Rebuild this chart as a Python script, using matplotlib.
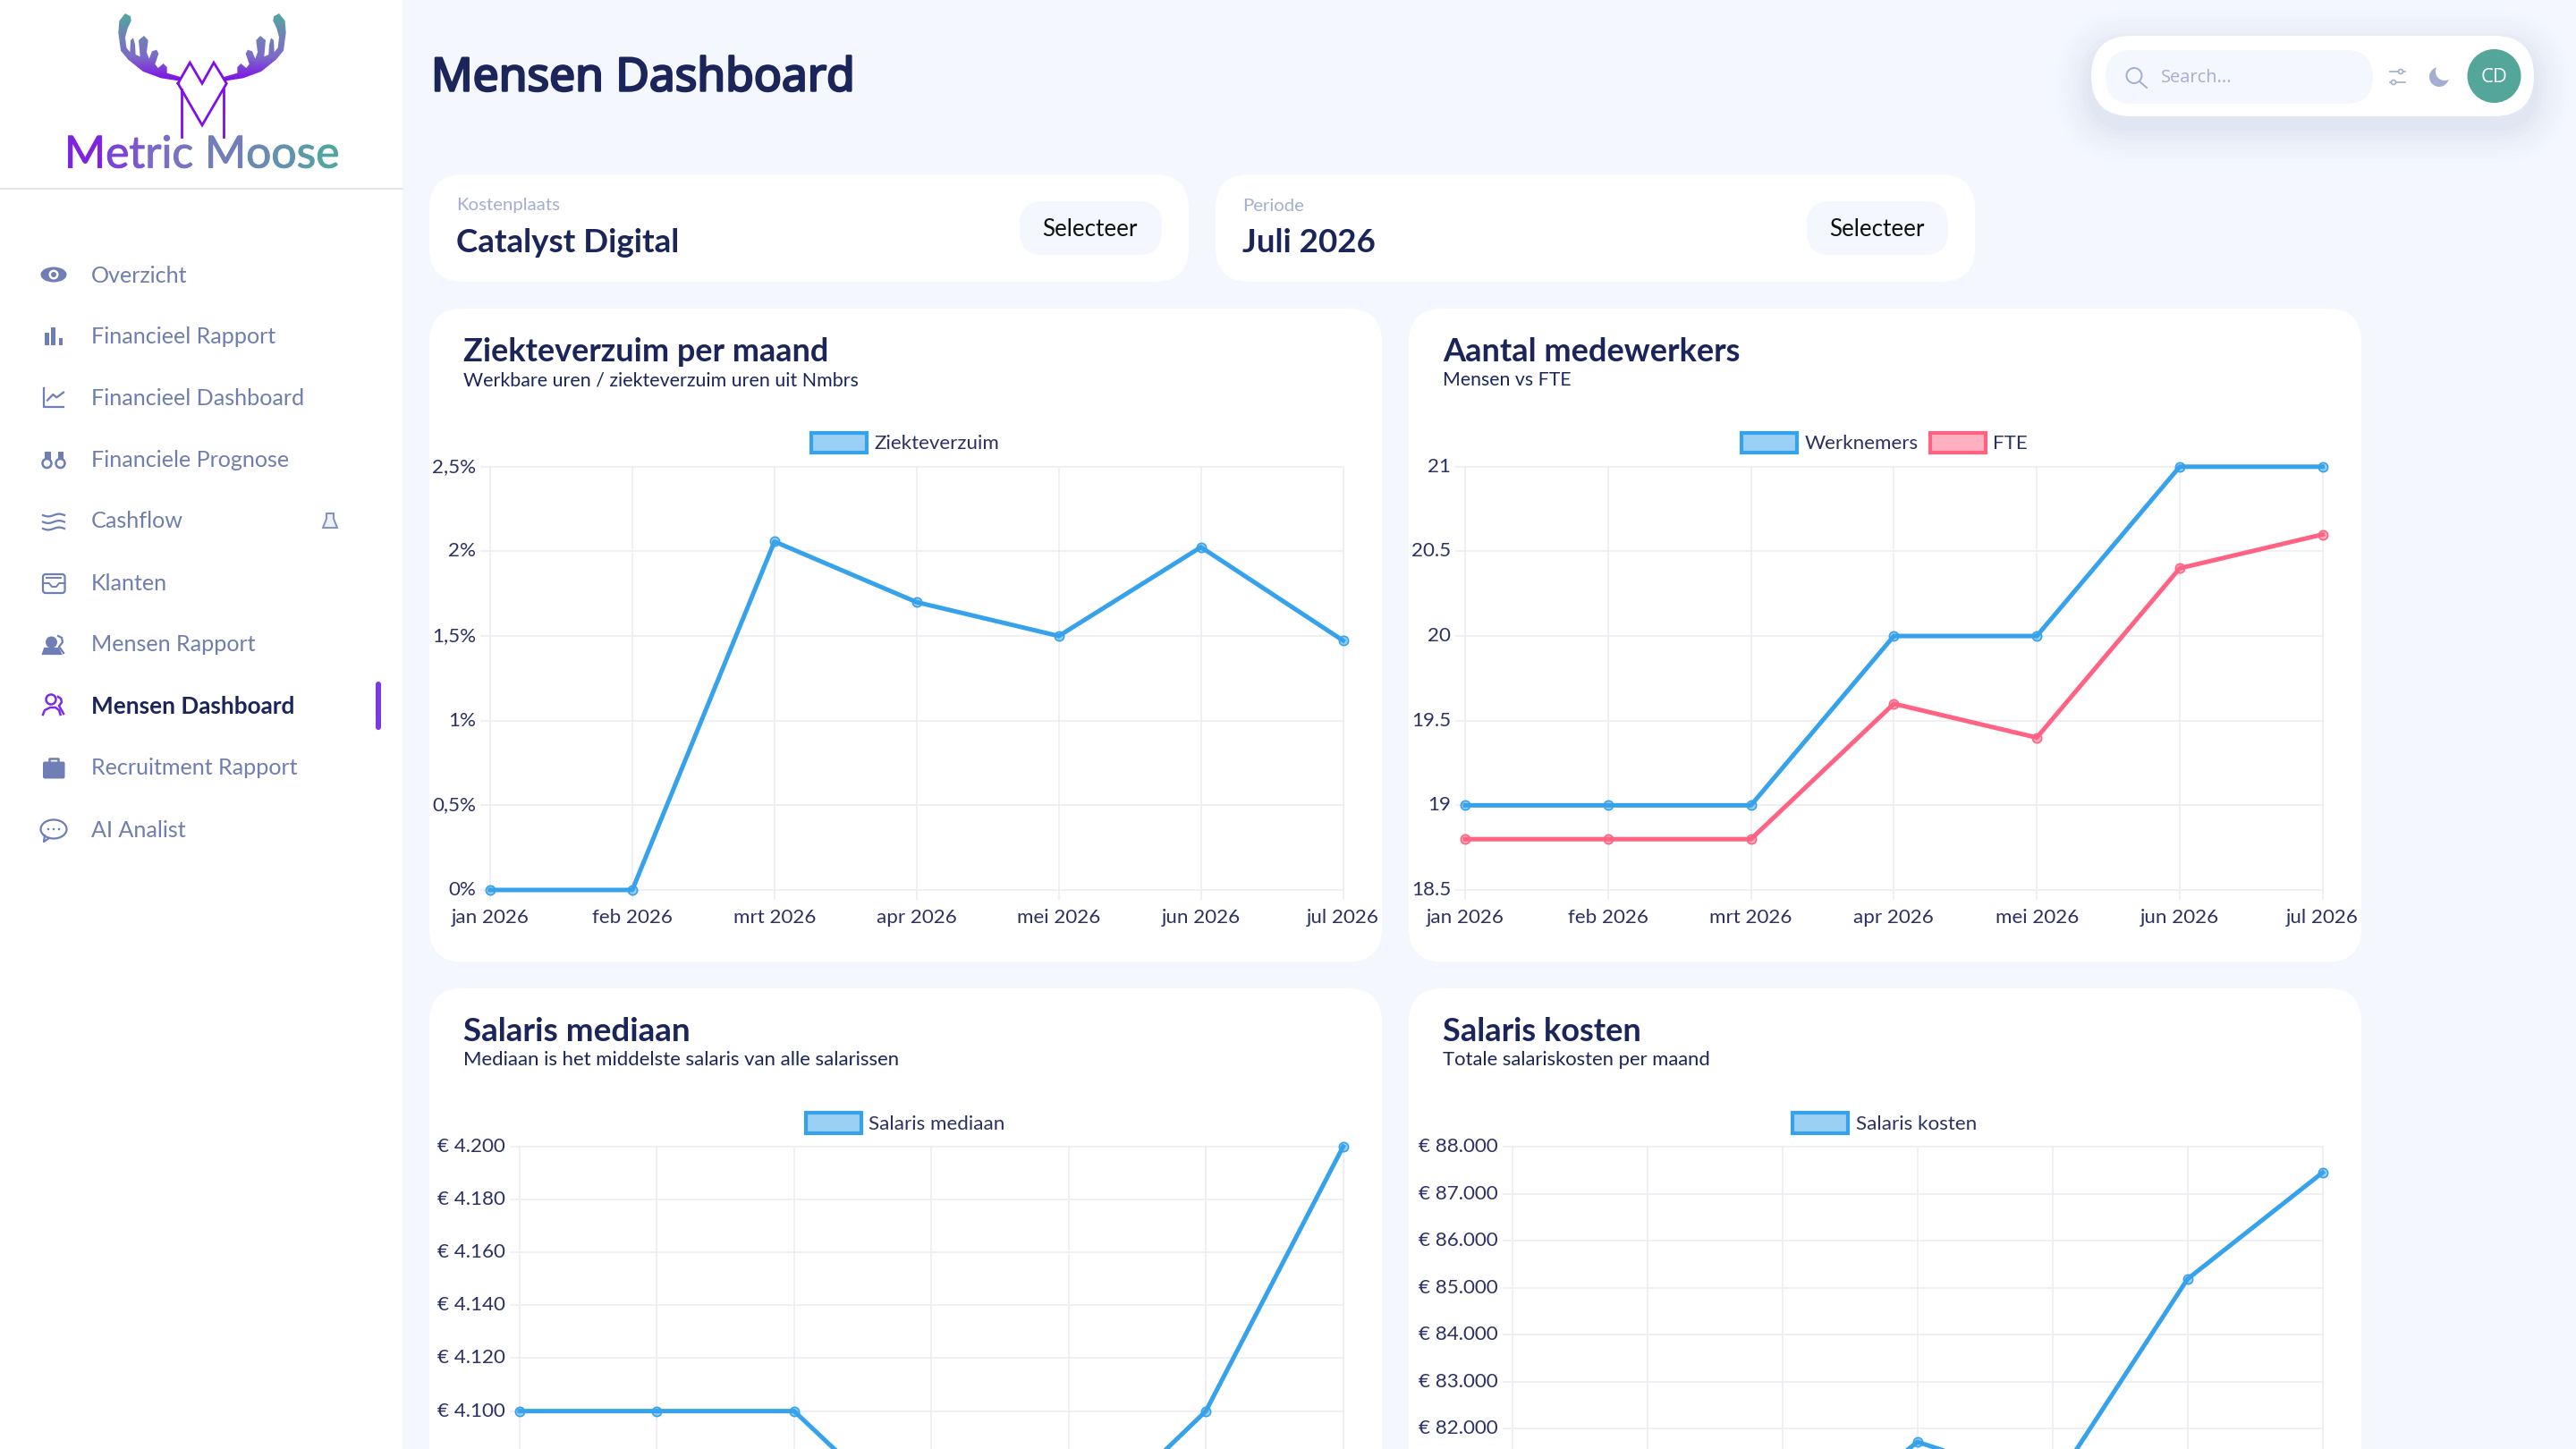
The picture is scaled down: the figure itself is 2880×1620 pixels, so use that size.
import matplotlib
matplotlib.use("Agg")
import matplotlib.pyplot as plt
import matplotlib.patheffects as pe
import numpy as np
from matplotlib.colors import LinearSegmentedColormap, to_rgba
from matplotlib.patches import Circle, Ellipse, FancyBboxPatch, Patch, Polygon, Rectangle
from matplotlib.transforms import ScaledTranslation

W, H = 2880, 1620
BODY = "Lato"
NAVY = "#1B2559"
GRAY = "#A3AED0"
NAV = "#707EAE"
BG = "#F4F7FE"
BLUE = "#36A2EB"
PINK = "#FF6384"
GRID = "#ECECF2"
TICK = "#2B3263"
PURPLE = "#7E0FE6"

months = ["jan 2026", "feb 2026", "mrt 2026", "apr 2026", "mei 2026", "jun 2026", "jul 2026"]

verzuim = [0, 0, 2.058, 1.70, 1.50, 2.025, 1.473]
verzuim_ticks = [0, 0.5, 1, 1.5, 2, 2.5]
verzuim_labels = ["0%", "0,5%", "1%", "1,5%", "2%", "2,5%"]

werknemers = [19, 19, 19, 20, 20, 21, 21]
fte = [18.8, 18.8, 18.8, 19.6, 19.4, 20.4, 20.6]
mw_ticks = [18.5, 19, 19.5, 20, 20.5, 21]
mw_labels = ["18.5", "19", "19.5", "20", "20.5", "21"]

mediaan = [4100, 4100, 4100, 4051, 4050, 4100, 4200]
mediaan_ticks = [4100, 4120, 4140, 4160, 4180, 4200]
mediaan_labels = ["€ 4.100", "€ 4.120", "€ 4.140", "€ 4.160", "€ 4.180", "€ 4.200"]

kosten = [79300, 79300, 79400, 81720, 80775, 85185, 87450]
kosten_ticks = [82000, 83000, 84000, 85000, 86000, 87000, 88000]
kosten_labels = ["€ 82.000", "€ 83.000", "€ 84.000", "€ 85.000", "€ 86.000", "€ 87.000", "€ 88.000"]

nav_items = ["Overzicht", "Financieel Rapport", "Financieel Dashboard", "Financiele Prognose", "Cashflow",
             "Klanten", "Mensen Rapport", "Mensen Dashboard", "Recruitment Rapport", "AI Analist"]
nav_y = [306, 375, 443.5, 512.5, 581, 650, 719, 788, 857, 926]

fig = plt.figure(figsize=(14.4, 8.1), dpi=200, facecolor=BG)
ui = fig.add_axes([0, 0, 1, 1], zorder=0)
ui.set_xlim(0, W)
ui.set_ylim(H, 0)
ui.axis("off")


def px(size):
    return size * 72 / 200


def fit_text(x, y, s, width, family=BODY, color=NAVY, weight="normal", ha="left"):
    # scale the font so the string is as wide as in the reference
    t = ui.text(x, y, s, family=family, color=color, weight=weight, ha=ha, va="center", fontsize=10)
    w = t.get_window_extent(fig.canvas.get_renderer()).width
    t.set_fontsize(10 * width / w)
    return t


def card(x0, y0, x1, y1, r=38, color="white", **kw):
    p = FancyBboxPatch((x0, y0), x1 - x0, y1 - y0, boxstyle=f"round,pad=0,rounding_size={r}",
                       fc=color, ec="none", **kw)
    ui.add_patch(p)
    return p


# sidebar
ui.add_patch(Rectangle((0, 0), 450, H, fc="white", ec="none"))
ui.plot([0, 450], [211, 211], color="#E3E6F0", lw=0.8)

# logo
grad = LinearSegmentedColormap.from_list("moose", [PURPLE, "#7C6CC8", "#6F84B4", "#4FA8A0"])
left_antler = np.array([(420, 45), (438, 55), (440, 70), (428, 95), (420, 125), (424, 160), (436, 175), (438, 135),
                        (447, 127), (453, 150), (455, 183), (470, 190), (465, 135), (483, 120), (497, 135), (492, 175),
                        (500, 197), (510, 172), (525, 167), (532, 180), (520, 215), (530, 228), (548, 213), (560, 225),
                        (560, 245), (605, 258), (605, 272), (540, 262), (480, 240), (430, 200), (405, 170), (397, 110),
                        (400, 70)], dtype=float) / 3
for pts in (left_antler, np.column_stack([452 - left_antler[:, 0], left_antler[:, 1]])):
    im = ui.imshow(np.linspace(1, 0, 64)[:, None] ** 1.1, extent=(120, 330, 92, 15), cmap=grad, vmin=0, vmax=1,
                   aspect="auto", zorder=2)
    im.set_clip_path(Polygon(pts, transform=ui.transData))
ui.set_xlim(0, W)
ui.set_ylim(H, 0)
mx = np.array([199, 212.3, 226, 239, 253.3, 226, 199])
my = np.array([93.3, 70, 93.3, 70, 93.3, 140, 93.3])
ui.plot(mx, my, color=PURPLE, lw=1.0, solid_joinstyle="miter", zorder=3)
ui.plot([202.5, 202.5], [100, 153], color=PURPLE, lw=1.0, zorder=3)
ui.plot([249.5, 249.5], [100, 153], color=PURPLE, lw=1.0, zorder=3)

logo = "Metric Moose"
renderer = fig.canvas.get_renderer()
logo_w = 307
logo_size = px(47)
probe = ui.text(0, 0, logo, family="Lato", fontsize=logo_size)
logo_size *= logo_w / probe.get_window_extent(renderer).width
probe.set_fontsize(logo_size)
for i, ch in enumerate(logo):
    probe.set_text(logo[:i + 1])
    end = probe.get_window_extent(renderer).width
    probe.set_text(ch)
    cw = probe.get_window_extent(renderer).width if ch != " " else 0
    if ch != " ":
        col = grad((end - cw / 2) / logo_w)
        ui.text(72 + end - cw, 187.5, ch, family="Lato", fontsize=logo_size, color=col, va="baseline", ha="left",
                path_effects=[pe.withStroke(linewidth=0.35, foreground=col)])
probe.remove()

# nav labels
for label, y in zip(nav_items, nav_y):
    active = label == "Mensen Dashboard"
    ui.text(102, y + 2, label, family=BODY, fontsize=px(26.2) if active else px(25.2), color=NAVY if active else NAV,
            weight="bold" if active else "normal", va="center")
ui.add_patch(FancyBboxPatch((420, 762), 6, 54, boxstyle="round,pad=0,rounding_size=3", fc="#7B3AE0", ec="none"))

# nav icons, rough shapes of the originals
ic = "#6F7EB4"
ui.add_patch(Ellipse((60, 307), 29, 17, fc=ic, ec="none"))
ui.add_patch(Circle((60, 307), 5.5, fc="white", ec="none"))
ui.add_patch(Circle((60, 307), 3, fc=ic, ec="none"))
for bx, bw, by in [(50, 4.5, 371.5), (56.7, 5.6, 366), (65.7, 4.5, 378)]:
    ui.add_patch(Rectangle((bx, by), bw, 386 - by, fc=ic, ec="none"))
ui.plot([49, 49, 71], [434, 455, 455], color=ic, lw=0.8)
ui.plot([53, 59.3, 63.3, 71], [447.5, 441, 444.4, 438.6], color=ic, lw=0.8)
for cx in (52.5, 67.5):
    ui.add_patch(Rectangle((cx - 3, 505), 7 if cx < 60 else 6, 11, fc=ic, ec="none"))
    ui.add_patch(Circle((cx, 518), 5, fc="white", ec=ic, lw=0.9))
wx = np.linspace(48, 72, 30)
for wy in (576, 583.5, 591):
    ui.plot(wx, wy + 1.4 * np.sin((wx - 48) / 24 * 2 * np.pi), color=ic, lw=0.8)
ui.add_patch(FancyBboxPatch((48, 642), 24.5, 21, boxstyle="round,pad=0,rounding_size=3", fc="white", ec=ic, lw=0.8))
ui.plot([48, 55, 58, 63, 66, 72.5], [652, 652, 656, 656, 652, 652], color=ic, lw=0.7)
ui.plot([52, 68], [646, 646], color=ic, lw=0.7)
ui.add_patch(Circle((57.5, 718), 6.5, fc=ic, ec="none"))
ui.add_patch(Polygon([(48, 731), (50, 725), (65, 725), (68, 731)], fc=ic, ec=ic, lw=0.8))
ui.plot([65, 69, 70, 66, 71], [711, 713, 718, 723, 730], color=ic, lw=0.8)
pu = "#7E2BE6"
ui.add_patch(Circle((57, 782), 5.5, fc="white", ec=pu, lw=0.9))
ui.plot([48, 50, 56, 62, 66, 67.5], [799, 794, 791, 791, 794, 799], color=pu, lw=0.9)
ui.plot([65, 68, 69, 66, 71], [779, 781, 785, 789, 798], color=pu, lw=0.9)
ui.add_patch(FancyBboxPatch((48, 851.5), 24.5, 19, boxstyle="round,pad=0,rounding_size=2", fc=ic, ec="none"))
ui.plot([55, 55, 65, 65], [851, 847.5, 847.5, 851], color=ic, lw=0.9)
ui.add_patch(Ellipse((60, 927), 29, 21, fc="white", ec=ic, lw=0.8))
ui.plot([50, 49, 55], [934, 941, 937], color=ic, lw=0.8)
for dx in (54, 60, 66):
    ui.add_patch(Circle((dx, 927), 1.3, fc=ic, ec="none"))
ui.add_patch(Polygon([(365, 574), (373, 574), (373, 580), (377, 590), (361, 590), (365, 580)],
                     fc="#EEF0F8", ec="#8391BE", lw=0.7))

# page title and search pill
title = fit_text(482, 88, "Mensen Dashboard", 473, family="Noto Sans")
title.set_path_effects([pe.withStroke(linewidth=0.9, foreground=NAVY)])
for grow, a in zip(range(40, 0, -5), [0.006, 0.008, 0.01, 0.012, 0.015, 0.018, 0.02, 0.02]):
    card(2338 - grow, 40 - grow + 12, 2833 + grow, 130 + grow + 12, r=45 + grow, color="#7085B5", alpha=a, zorder=1)
card(2338, 40, 2833, 130, r=45, zorder=2)
card(2354, 56, 2653, 116, r=30, color=BG, zorder=3)
ui.add_patch(Circle((2386, 84.5), 8.5, fc="none", ec=GRAY, lw=0.7, zorder=4))
ui.plot([2392, 2400], [91, 98], color=GRAY, lw=0.7, zorder=4)
t = fit_text(2416, 87, "Search...", 79, family="Open Sans", color=GRAY)
t.set_zorder(4)
for ly, cx in [(80, 2684), (92, 2676)]:
    ui.plot([2672, 2689], [ly, ly], color=GRAY, lw=0.6, zorder=4)
    ui.add_patch(Circle((cx, ly), 2.5, fc="white", ec=GRAY, lw=0.6, zorder=5))
ui.add_patch(Circle((2727, 86), 11, fc=GRAY, ec="none", zorder=4))
ui.add_patch(Circle((2733, 80), 10, fc="white", ec="none", zorder=5))
ui.add_patch(Circle((2788.5, 85), 30, fc="#54A69B", ec="none", zorder=4))
ui.text(2788.5, 86, "CD", family="Open Sans", color="white", fontsize=px(22), ha="center", va="center", zorder=5)

# selector cards
for x0, x1, bx0, bx1, small, big, big_w, small_w in [
    (480, 1329, 1140, 1299, "Kostenplaats", "Catalyst Digital", 250, 116),
    (1359, 2208, 2020, 2178, "Periode", "Juli 2026", 149, 69),
]:
    card(x0, 195, x1, 315)
    card(bx0, 225, bx1, 285, r=26, color=BG)
    fit_text(x0 + 30, 230, small, small_w, color=GRAY)
    fit_text(x0 + 30, 271, big, big_w, weight="bold")
    fit_text((bx0 + bx1) / 2 - 1, 256, "Selecteer", 107, color="#111111", ha="center")

# chart cards
card(480, 345, 1545, 1075.5)
card(1575, 345, 2640, 1075.5)
card(480, 1105, 1545, 1700)
card(1575, 1105, 2640, 1700)

titles = [
    (517.5, 393, "Ziekteverzuim per maand", 408, 425, "Werkbare uren / ziekteverzuim uren uit Nmbrs", 443),
    (1613, 393, "Aantal medewerkers", 332, 425, "Mensen vs FTE", 143),
    (517.5, 1154, "Salaris mediaan", 254, 1185, "Mediaan is het middelste salaris van alle salarissen", 489),
    (1613, 1154, "Salaris kosten", 222, 1185, "Totale salariskosten per maand", 300),
]
for x, y, head, tw, sy, sub, sw in titles:
    fit_text(x, y, head, tw, weight="bold")
    fit_text(x, sy, sub, sw)


def chart(left, right, top, bottom, ymin, ymax, yticks, ylabels, series, legend_x, legend_y, xlabels=True):
    ax = fig.add_axes([left / W, 1 - bottom / H, (right - left) / W, (bottom - top) / H], zorder=2)
    ax.patch.set_alpha(0)
    for spine in ax.spines.values():
        spine.set_visible(False)
    ax.set_xlim(0, len(months) - 1)
    ax.set_ylim(ymin, ymax)
    ax.set_xticks(range(len(months)))
    ax.set_xticklabels(months if xlabels else [""] * len(months))
    ax.set_yticks(yticks)
    ax.set_yticklabels(ylabels)
    ax.grid(True, color=GRID, lw=0.6)
    ax.set_axisbelow(True)
    for gl in ax.get_xgridlines() + ax.get_ygridlines():
        gl.set_clip_on(False)
    fs = px(22.4)
    ax.tick_params(length=px(11), width=0.6, color=GRID, labelcolor=TICK, labelsize=fs)
    ax.tick_params(axis="x", pad=px(10))
    ax.tick_params(axis="y", pad=px(5))
    up = ScaledTranslation(0, 2 / 200, fig.dpi_scale_trans)
    for lab in ax.get_xticklabels() + ax.get_yticklabels():
        lab.set_family(BODY)
    for lab in ax.get_yticklabels():
        lab.set_transform(lab.get_transform() + up)
    handles = []
    for label, values, color in series:
        ax.plot(range(len(months)), values, color=color, lw=1.8, marker="o", ms=3.7, mew=0.6, mec=color,
                mfc=to_rgba(color, 0.5), clip_on=False, zorder=3)
        handles.append(Patch(fc=to_rgba(color, 0.5), ec=color, lw=1.5, label=label))
    fig.legend(handles=handles, loc="center", bbox_to_anchor=(legend_x / W, 1 - legend_y / H), frameon=False,
               ncol=len(handles), handlelength=62 / 22.4, handleheight=26 / 22.4, handletextpad=0.38,
               columnspacing=0.6, borderpad=0, borderaxespad=0, labelcolor=TICK, prop={"family": BODY, "size": fs})
    return ax


chart(548, 1501.6, 521.8, 995, 0, 2.5, verzuim_ticks, verzuim_labels, [("Ziekteverzuim", verzuim, BLUE)], 1012, 495)
chart(1638, 2596.7, 521.8, 995, 18.5, 21, mw_ticks, mw_labels,
      [("Werknemers", werknemers, BLUE), ("FTE", fte, PINK)], 2107, 495)
chart(581, 1501.6, 1282, 1755, 4040, 4200, mediaan_ticks, mediaan_labels, [("Salaris mediaan", mediaan, BLUE)],
      1012, 1255.5, xlabels=False)
chart(1690.7, 2596.7, 1282, 1755, 79000, 88000, kosten_ticks, kosten_labels, [("Salaris kosten", kosten, BLUE)],
      2107, 1255.5, xlabels=False)

fig.savefig("out.png", dpi=200, facecolor=BG)
